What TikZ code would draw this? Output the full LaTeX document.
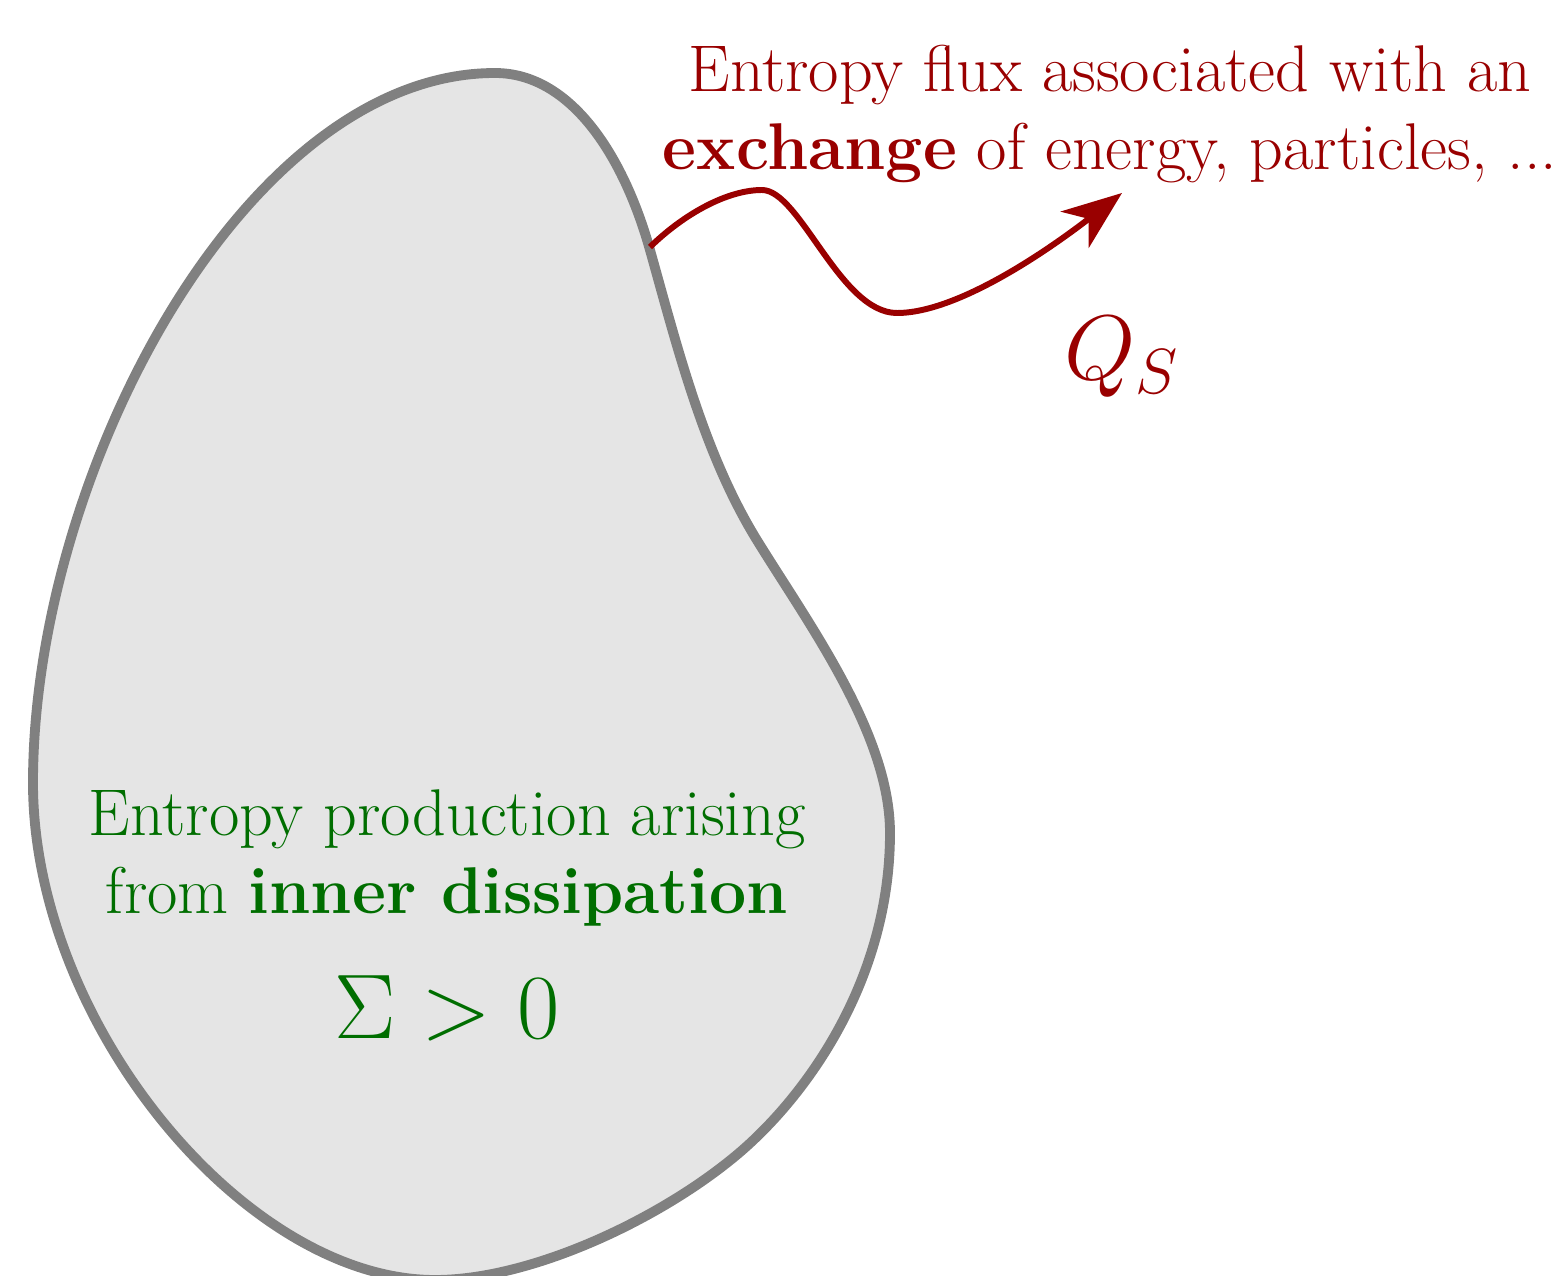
\documentclass[tikz,border=0pt]{standalone}
\usepackage{amsmath,amssymb}
\usetikzlibrary{arrows.meta}

\definecolor{fluxred}{RGB}{153,0,0}
\definecolor{prodgreen}{RGB}{0,110,0}

\tikzset{
  body/.style={draw=gray, fill=gray!20, line width=2.8pt},
  fluxarrow/.style={draw=fluxred, line width=1.7pt,
    -{Stealth[length=17pt, width=13pt, inset=5pt]}},
  fluxtext/.style={text=fluxred, align=center, inner sep=2pt,
    font=\fontsize{18.8}{22.2}\selectfont},
  prodtext/.style={text=prodgreen, align=center, inner sep=2pt,
    font=\fontsize{18.8}{22.2}\selectfont},
  bigmath/.style={inner sep=0pt, font=\huge, scale=1.26, transform shape},
}

\begin{document}
\begin{tikzpicture}
  % Frame
  \useasboundingbox (0,0) rectangle (15.64,12.75);

  % System
  \draw[body] (4.95,12.02)
    .. controls (5.70,12.02) and (6.23,11.21) .. (6.50,10.25)
    .. controls (6.77,9.29) and (7.03,8.24) .. (7.55,7.38)
    .. controls (8.07,6.53) and (8.90,5.42) .. (8.90,4.42)
    .. controls (8.90,2.92) and (8.03,1.74) .. (7.33,1.17)
    .. controls (6.56,0.54) and (5.30,-0.05) .. (4.35,-0.05)
    .. controls (2.45,-0.05) and (0.33,2.52) .. (0.33,4.92)
    .. controls (0.33,8.02) and (2.45,12.02) .. (4.95,12.02) -- cycle;

  % Points
  \coordinate (src) at (6.50,10.28);
  \coordinate (tip) at (11.22,10.82);

  % Flux arrow
  \draw[fluxarrow] (src) .. controls (6.85,10.62) and (7.28,10.85) .. (7.62,10.85)
    .. controls (8.00,10.85) and (8.40,9.62) .. (8.97,9.62)
    .. controls (9.60,9.62) and (10.55,10.30) .. (tip);

  % Labels
  \node[fluxtext] (flux) at (11.10,11.61)
    {Entropy flux associated with an\\ \textbf{exchange} of energy, particles, ...};
  \node[bigmath, text=fluxred, anchor=base] (qs) at (11.22,8.95) {$Q_S$};

  \node[prodtext] (prod) at (4.47,4.17)
    {Entropy production arising\\ from \textbf{inner dissipation}};
  \node[bigmath, text=prodgreen, anchor=base] (sigma) at (4.47,2.37) {$\Sigma > 0$};
\end{tikzpicture}
\end{document}
